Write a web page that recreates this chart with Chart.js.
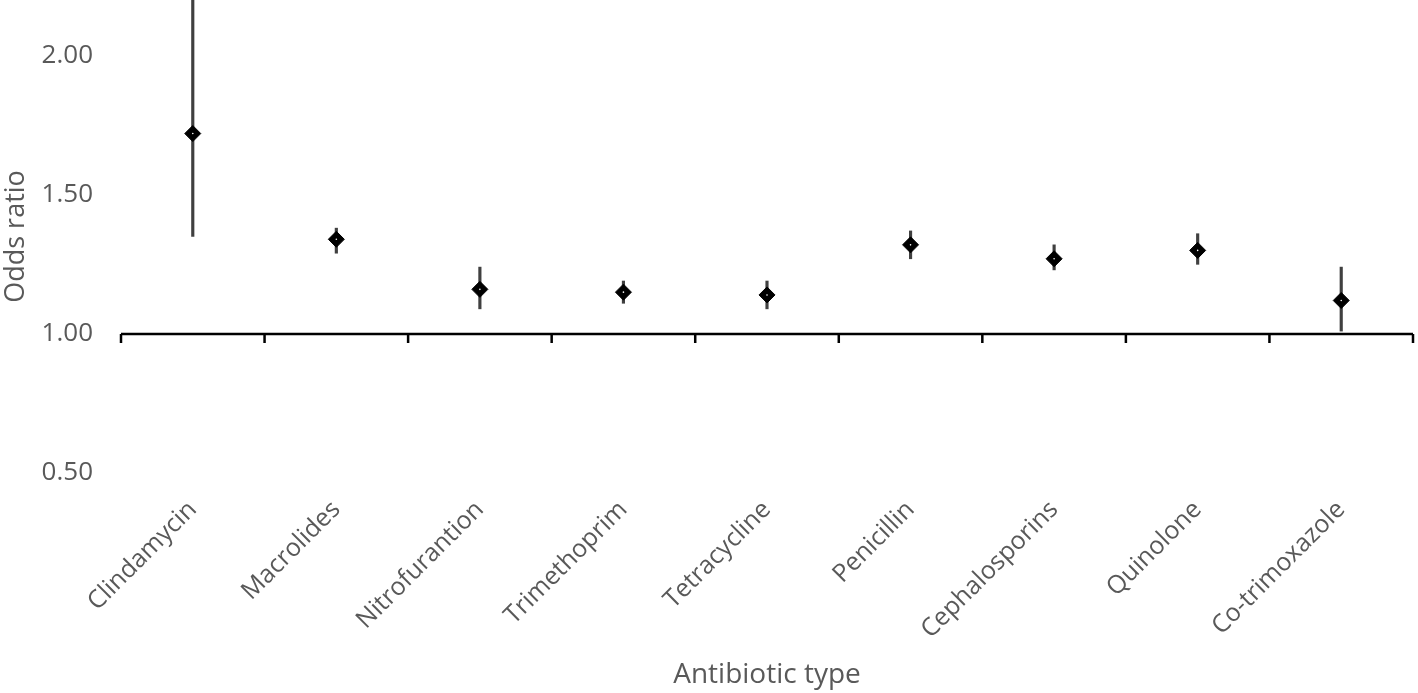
<!DOCTYPE html>
<html lang="en">
<head>
  <meta charset="UTF-8">
  <title>Odds ratio by antibiotic type</title>
  <script src="https://cdn.jsdelivr.net/npm/chart.js"></script>
  <style>
    html, body { margin: 0; padding: 0; background: #fff; }
    #wrap { width: 1418px; height: 693px; }
  </style>
</head>
<body>
  <div id="wrap">
    <canvas id="myChart" width="1418" height="693"></canvas>
  </div>

  <script>
    const antibiotici = ['Clindamycin', 'Macrolides', 'Nitrofurantion', 'Trimethoprim', 'Tetracycline',
                         'Penicillin', 'Cephalosporins', 'Quinolone', 'Co-trimoxazole'];
    const oddsRatio = [1.72, 1.34, 1.16, 1.15, 1.14, 1.32, 1.27, 1.30, 1.12];
    const ciBasso  = [1.35, 1.29, 1.09, 1.11, 1.09, 1.27, 1.23, 1.25, 1.01];
    const ciAlto   = [2.30, 1.38, 1.24, 1.19, 1.19, 1.37, 1.32, 1.36, 1.24];
    const tickY = [0.5, 1.0, 1.5, 2.0];

    const grigio = '#595959';
    const font = '"Open Sans", sans-serif';

    // asse orizzontale che incrocia a 1.00, con tacche tra le categorie
    const assePlugin = {
      id: 'asseUno',
      afterDatasetsDraw(chart) {
        const { ctx, chartArea, scales } = chart;
        const y = scales.y.getPixelForValue(1);
        const n = antibiotici.length;
        ctx.save();
        ctx.strokeStyle = '#000';
        ctx.lineWidth = 2.5;
        ctx.beginPath();
        ctx.moveTo(chartArea.left, y);
        ctx.lineTo(chartArea.right, y);
        for (let i = 0; i <= n; i++) {
          const x = scales.x.getPixelForValue(i - 0.5);
          ctx.moveTo(x, y);
          ctx.lineTo(x, y + 9);
        }
        ctx.stroke();
        ctx.restore();
      }
    };

    let ctx = document.getElementById('myChart').getContext('2d');
    let chart = new Chart(ctx, {
      type: 'bar',
      data: {
        labels: antibiotici,
        datasets: [{
          type: 'line',
          label: 'Odds ratio',
          data: oddsRatio,
          showLine: false,
          pointStyle: 'rectRot',
          pointRadius: 8,
          pointBackgroundColor: '#000',
          pointBorderColor: '#000',
          pointBorderWidth: 1,
          order: 1
        }, {
          type: 'line',
          label: 'centro',
          data: oddsRatio,
          showLine: false,
          pointStyle: 'circle',
          pointRadius: 0.8,
          pointBackgroundColor: '#fff',
          pointBorderWidth: 0,
          order: 0
        }, {
          type: 'bar',
          label: 'IC 95%',
          data: antibiotici.map((_, i) => [ciBasso[i], ciAlto[i]]),
          backgroundColor: '#404040',
          barThickness: 2.5,
          order: 2
        }]
      },
      options: {
        responsive: false,
        animation: false,
        layout: { autoPadding: false, padding: { top: 0, right: 5, bottom: 0, left: 0 } },
        plugins: {
          legend: { display: false },
          tooltip: { enabled: false }
        },
        scales: {
          x: {
            afterFit(scale) { scale.height = 220; },
            grid: { display: false, drawTicks: false },
            border: { display: false },
            ticks: {
              autoSkip: false,
              minRotation: 45,
              maxRotation: 45,
              padding: 22,
              color: grigio,
              font: { family: font, size: 25 }
            },
            title: {
              display: true,
              text: 'Antibiotic type',
              color: grigio,
              padding: { top: 4, bottom: 1 },
              font: { family: font, size: 28 }
            }
          },
          y: {
            min: 0.5,
            max: 2.2,
            afterBuildTicks(scale) {
              scale.ticks = tickY.map(v => ({ value: v }));
            },
            afterFit(scale) {
              scale.width = 121;
              scale.paddingTop = 0;
              scale.paddingBottom = 0;
            },
            grid: { display: false, drawTicks: false },
            border: { display: false },
            ticks: {
              padding: 28,
              color: grigio,
              font: { family: font, size: 26 },
              callback: v => v.toFixed(2)
            },
            title: {
              display: true,
              text: 'Odds ratio',
              color: grigio,
              padding: { top: 0, bottom: 4 },
              font: { family: font, size: 27 }
            }
          }
        }
      },
      plugins: [assePlugin]
    });
  </script>
</body>
</html>
